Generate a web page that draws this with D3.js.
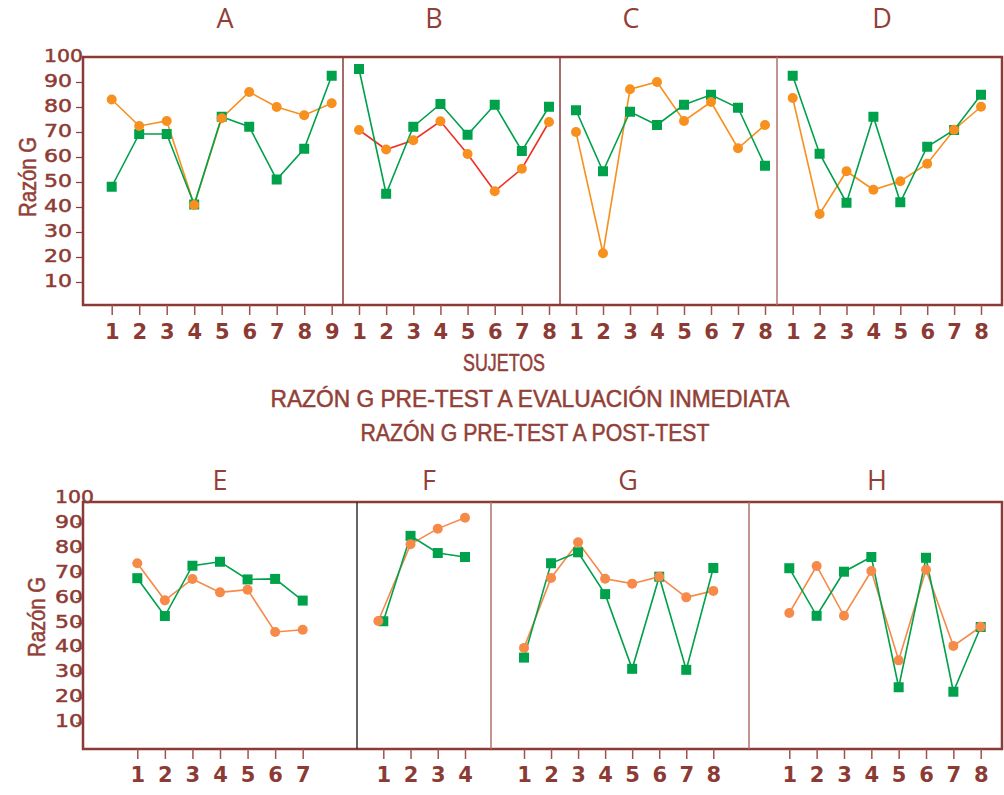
<!DOCTYPE html>
<html>
<head>
<meta charset="utf-8">
<script src="https://cdn.jsdelivr.net/npm/d3@7"></script>
<style>
  body { margin: 0; background: #fff; }
  svg text { fill: #923f38; }
  .heavy { stroke: #923f38; stroke-width: 0.5px; }
</style>
</head>
<body>
<svg width="1004" height="795"></svg>
<script>
// values (Razón G per subject)
const greenA  = [48.1, 69.2, 69.2, 41.0, 76.1, 72.1, 51.0, 63.3, 92.5];
const orangeA = [83.0, 72.4, 74.4, 40.8, 75.5, 86.0, 80.0, 76.7, 81.5];
const greenB  = [95.2, 45.3, 72.1, 81.2, 68.9, 80.9, 62.4, 80.1];
const orangeB = [70.8, 63.0, 66.7, 74.3, 61.2, 46.3, 55.3, 74.0];
const greenC  = [78.7, 54.3, 78.1, 72.8, 80.9, 84.9, 79.7, 56.5];
const orangeC = [70.0, 21.5, 87.1, 90.0, 74.4, 82.0, 63.5, 72.8];
const greenD  = [92.5, 61.3, 41.7, 76.1, 41.9, 64.1, 70.8, 84.9];
const orangeD = [83.6, 37.2, 54.3, 46.9, 50.3, 57.3, 70.9, 80.1];

const greenE  = [68.0, 52.8, 73.0, 74.6, 67.5, 67.7, 59.0];
const orangeE = [74.0, 59.1, 67.7, 62.3, 63.4, 46.4, 47.3];
const greenF  = [50.7, 85.0, 78.1, 76.5];
const orangeF = [50.8, 81.6, 87.9, 92.3];
const greenG  = [36.1, 74.0, 78.4, 61.6, 31.6, 68.6, 31.2, 72.1];
const orangeG = [40.0, 68.1, 82.4, 67.8, 65.8, 68.6, 60.3, 62.9];
const greenH  = [72.0, 52.9, 70.6, 76.5, 24.2, 76.2, 22.4, 48.4];
const orangeH = [54.0, 72.9, 52.9, 70.9, 35.0, 71.4, 40.8, 48.5];

const yTicks = [10, 20, 30, 40, 50, 60, 70, 80, 90, 100];
const panelNames = ['A', 'B', 'C', 'D', 'E', 'F', 'G', 'H'];
const yLabel = 'Razón G';
const xLabel = 'SUJETOS';
const legend1 = 'RAZÓN G PRE-TEST A EVALUACIÓN INMEDIATA';
const legend2 = 'RAZÓN G PRE-TEST A POST-TEST';

const frameColor = '#8c3a34';
const green = '#00a14b';

const svg = d3.select('svg');

// two rows of panels
const rows = [
  {top: 57, bottom: 305, y100: 57, y0: 307, titleY: 28, tickLabelY: 339, labelX: 36, labelY: 177, orange: '#f7901e'},
  {top: 502, bottom: 749, y100: 498.5, y0: 747.5, titleY: 490, tickLabelY: 782, labelX: 45, labelY: 617, orange: '#f68a48'}
];

const panels = [
  {row: 0, x0: 83,  first: 111.7, last: 331.7, titleX: 225, green: greenA, orange: orangeA},
  {row: 0, x0: 343, first: 359,   last: 549,   titleX: 434, green: greenB, orange: orangeB, divider: '#8c3a34', line: '#ee3124'},
  {row: 0, x0: 560, first: 576,   last: 765,   titleX: 631, green: greenC, orange: orangeC, divider: '#8c3a34'},
  {row: 0, x0: 777, first: 792.7, last: 981,   titleX: 882, green: greenD, orange: orangeD, divider: '#b0706b'},
  {row: 1, x0: 83,  first: 137.3, last: 302.7, titleX: 220, green: greenE, orange: orangeE},
  {row: 1, x0: 357, first: 383.3, last: 465,   titleX: 429, green: greenF, orange: orangeF, divider: '#333', shiftFirst: -5},
  {row: 1, x0: 491, first: 524,   last: 713.3, titleX: 628, green: greenG, orange: orangeG, divider: '#b0706b'},
  {row: 1, x0: 749, first: 789.3, last: 980.7, titleX: 877, green: greenH, orange: orangeH, divider: '#b0706b'}
];

rows.forEach((r, ri) => {
  const yScale = d3.scaleLinear().domain([0, 100]).range([r.y0, r.y100]);
  r.yScale = yScale;

  // outer frame
  svg.append('rect')
    .attr('x', 83).attr('y', r.top)
    .attr('width', 1002 - 83).attr('height', r.bottom - r.top)
    .attr('fill', 'none')
    .attr('stroke', frameColor)
    .attr('stroke-width', 2.5);

  const yAxis = d3.axisLeft(yScale)
    .tickValues(yTicks)
    .tickSize(7)
    .tickFormat(d3.format('d'));

  const yAxisG = svg.append('g')
    .attr('transform', `translate(83,0)`)
    .call(yAxis);
  yAxisG.select('.domain').remove();
  yAxisG.selectAll('line').attr('stroke', frameColor).attr('stroke-width', 1.2);
  yAxisG.selectAll('.tick').filter(d => d === 100).select('line').remove();
  yAxisG.selectAll('text')
    .attr('class', 'heavy')
    .attr('text-anchor', 'start')
    .attr('x', ri === 0 ? -39 : -28)
    .attr('dy', null)
    .attr('y', 4)
    .attr('textLength', d => d === 100 ? 39 : 28)
    .attr('lengthAdjust', 'spacingAndGlyphs')
    .style('font-family', 'DejaVu Sans')
    .style('font-size', '17px')
    .style('fill', frameColor);

  svg.append('text')
    .attr('class', 'heavy')
    .attr('transform', `translate(${r.labelX},${r.labelY}) rotate(-90)`)
    .attr('text-anchor', 'middle')
    .attr('textLength', 80)
    .attr('lengthAdjust', 'spacingAndGlyphs')
    .style('font-family', 'Liberation Sans')
    .style('font-size', '23px')
    .text(yLabel);
});

panels.forEach((p, i) => {
  const r = rows[p.row];
  const yScale = r.yScale;
  const subjects = d3.range(1, p.green.length + 1);

  const xScale = d3.scaleLinear()
    .domain([1, subjects.length])
    .range([p.first, p.last]);

  // divider at the left of every inner panel
  if (p.divider) {
    svg.append('line')
      .attr('x1', p.x0).attr('x2', p.x0)
      .attr('y1', r.top).attr('y2', r.bottom)
      .attr('stroke', p.divider)
      .attr('stroke-width', 1.5);
  }

  const xAxis = d3.axisBottom(xScale)
    .tickValues(subjects)
    .tickSize(10)
    .tickFormat(d3.format('d'));

  const xAxisG = svg.append('g')
    .attr('transform', `translate(0,${r.bottom})`)
    .call(xAxis);
  xAxisG.select('.domain').remove();
  xAxisG.selectAll('line').attr('stroke', '#a0524c').attr('stroke-width', 1.5);
  xAxisG.selectAll('text')
    .attr('dy', null)
    .attr('y', r.tickLabelY - r.bottom)
    .style('font-family', 'DejaVu Sans')
    .style('font-weight', 'bold')
    .style('font-size', '21px')
    .style('fill', frameColor);

  svg.append('text')
    .attr('x', p.titleX)
    .attr('y', r.titleY)
    .attr('text-anchor', 'middle')
    .style('font-family', 'Open Sans')
    .style('font-size', '27px')
    .text(panelNames[i]);

  // orange marker of subject 1 in F sits a little left of its tick
  const xOrange = (d, j) => xScale(j + 1) + (j === 0 && p.shiftFirst ? p.shiftFirst : 0);

  const orangeLine = d3.line()
    .x(xOrange)
    .y(d => yScale(d));

  const greenLine = d3.line()
    .x((d, j) => xScale(j + 1))
    .y(d => yScale(d));

  const g = svg.append('g');

  g.append('path')
    .attr('d', orangeLine(p.orange))
    .attr('fill', 'none')
    .attr('stroke', p.line || r.orange)
    .attr('stroke-width', 1.6);

  g.append('path')
    .attr('d', greenLine(p.green))
    .attr('fill', 'none')
    .attr('stroke', green)
    .attr('stroke-width', 1.6);

  g.selectAll('rect')
    .data(p.green)
    .enter().append('rect')
      .attr('x', (d, j) => xScale(j + 1) - 5)
      .attr('y', d => yScale(d) - 5)
      .attr('width', 10)
      .attr('height', 10)
      .attr('fill', green);

  g.selectAll('circle')
    .data(p.orange)
    .enter().append('circle')
      .attr('cx', xOrange)
      .attr('cy', d => yScale(d))
      .attr('r', 5)
      .attr('fill', r.orange);
});

// labels between the two rows
const midLabels = [
  {text: xLabel, x: 504, y: 371, len: 82},
  {text: legend1, x: 530, y: 407, len: 519},
  {text: legend2, x: 535, y: 441, len: 349}
];

svg.selectAll('text.mid')
  .data(midLabels)
  .enter().append('text')
    .attr('class', 'mid heavy')
    .attr('x', d => d.x)
    .attr('y', d => d.y)
    .attr('text-anchor', 'middle')
    .attr('textLength', d => d.len)
    .attr('lengthAdjust', 'spacingAndGlyphs')
    .style('font-family', 'Liberation Sans')
    .style('font-size', '23px')
    .text(d => d.text);
</script>
</body>
</html>
